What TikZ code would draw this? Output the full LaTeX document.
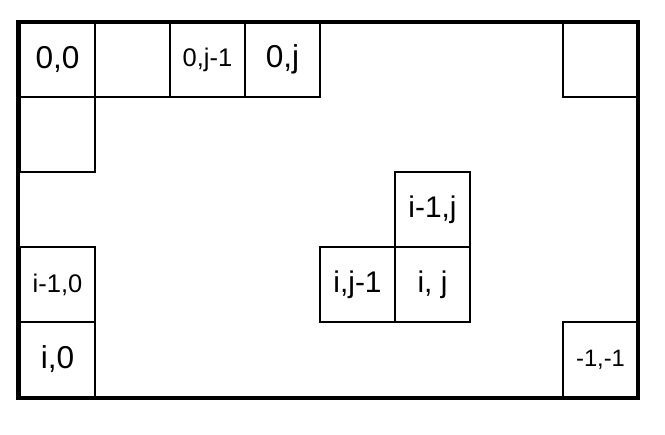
\documentclass[tikz,border=0pt]{standalone}
\usepackage{fontspec}
\setmainfont{Liberation Sans}
\usetikzlibrary{positioning}

\begin{document}
\begin{tikzpicture}[
    node distance=0pt,
    every node/.style={font=\fontsize{17}{19}\selectfont},
    cell/.style={
        rectangle,
        draw=black,
        line width=1.1pt,
        minimum width=1.5cm,
        minimum height=1.5cm,
        inner sep=0pt,
        outer sep=0pt
    },
    large/.style={font=\fontsize{18}{20}\selectfont},
    small/.style={font=\fontsize{14.5}{16}\selectfont},
    tiny/.style={font=\fontsize{13.5}{15}\selectfont},
    frame/.style={draw=black, line width=2.4pt}
]
\useasboundingbox (0,0) rectangle (13.3,-8.7);

\node[cell, large] (c00) at (1.15,-1.19) {0,0};
\node[cell, right=of c00] (c01) {};
\node[cell, small, right=of c01] (c0jm) {0,j-1};
\node[cell, large, right=of c0jm] (c0j) {0,j};
\node[cell, below=of c00] (c10) {};

\node[cell] (c0n) at (12.01,-1.19) {};

\node[cell] (cij) at (8.65,-5.69) {i,\ j};
\node[cell, above=of cij] (cimj) {i-1,j};
\node[cell, left=of cij] (cijm) {i,j-1};

\node[cell, large] (ci0) at (1.15,-7.19) {i,0};
\node[cell, small, above=of ci0] (cim0) {i-1,0};

\node[cell, tiny] (cmm) at (12.01,-7.19) {-1,-1};

\draw[frame] (0.36,-0.44) rectangle (12.76,-7.96);

\end{tikzpicture}
\end{document}
